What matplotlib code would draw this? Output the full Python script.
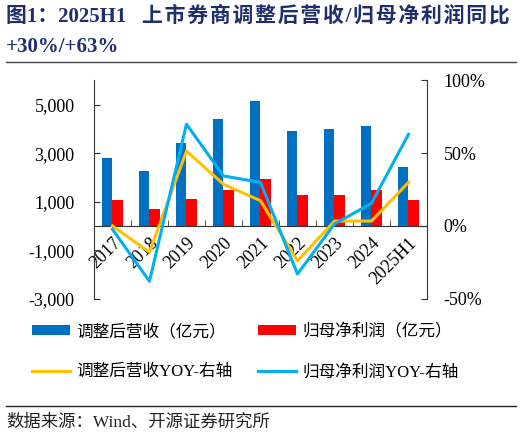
import matplotlib
matplotlib.use("Agg")
import matplotlib.pyplot as plt
from matplotlib.patches import Patch
from matplotlib.lines import Line2D
from matplotlib.ticker import FuncFormatter, FixedLocator

plt.rcParams["font.family"] = ["Liberation Serif", "Noto Sans CJK SC"]

YEARS = ["2017", "2018", "2019", "2020", "2021", "2022", "2023", "2024", "2025H1"]
REVENUE = [2800, 2280, 3435, 4410, 5155, 3900, 4010, 4140, 2420]
NET_PROFIT = [1070, 690, 1110, 1485, 1940, 1280, 1280, 1485, 1060]
REVENUE_YOY = [0.0, -18.0, 51.5, 28.7, 17.4, -24.0, 3.4, 3.4, 30.0]
PROFIT_YOY = [-2.3, -38.0, 70.0, 34.4, 30.0, -33.0, 1.4, 15.6, 63.0]

BLUE = "#0070C0"
RED = "#FF0000"
GOLD = "#FFC000"
SKY = "#00B0F0"
NAVY = "#1F2F6E"

TITLE_CN = "上市券商调整后营收/归母净利润同比"

fig = plt.figure(figsize=(5.22, 4.36), dpi=100)

# titulo e linhas de separacao
fig.text(0.011, 0.964, "图1：2025H1   " + "\u200a".join(TITLE_CN),
         fontsize=15, fontweight="bold", color=NAVY, va="center", ha="left")
fig.text(0.011, 0.892, "+30%/+63%", fontsize=15, fontweight="bold",
         color=NAVY, va="center", ha="left")
fig.add_artist(Line2D([0.012, 0.988], [0.858, 0.858], color="#444444", lw=1.0))
fig.add_artist(Line2D([0.012, 0.988], [0.069, 0.069], color="#222222", lw=1.0))
fig.text(0.013, 0.030, "数据来源：Wind、开源证券研究所", fontsize=12.5,
         va="center", ha="left", color="#222222")

ax = fig.add_axes([0.180, 0.3148, 0.638, 0.5006])
x = list(range(len(YEARS)))
w = 0.29
ax.bar([i - w / 2 for i in x], REVENUE, width=w, color=BLUE, zorder=2)
ax.bar([i + w / 2 for i in x], NET_PROFIT, width=w, color=RED, zorder=2)
ax.set_xlim(-0.5, len(YEARS) - 0.5)
ax.set_ylim(-3000, 6000)
ax.set_yticks([-3000, -1000, 1000, 3000, 5000])
ax.yaxis.set_major_formatter(FuncFormatter(lambda v, p: f"{int(v):,}"))

for s in ["top", "right"]:
    ax.spines[s].set_visible(False)
ax.spines["bottom"].set_position(("data", 0))
ax.spines["bottom"].set_color("#333333")
ax.spines["left"].set_color("#333333")

ax.set_xticks(x)
ax.set_xticklabels(YEARS, rotation=45, ha="right", rotation_mode="anchor")
ax.xaxis.set_minor_locator(FixedLocator([i + 0.5 for i in x[:-1]]))
ax.tick_params(axis="x", which="major", length=0, pad=6, labelsize=13)
ax.tick_params(axis="x", which="minor", direction="in", length=4, color="#333333")
ax.tick_params(axis="y", direction="in", length=4, labelsize=13, pad=14, color="#333333")

ax2 = ax.twinx()
ax2.plot(x, REVENUE_YOY, color=GOLD, lw=2.2, zorder=3)
ax2.plot(x, PROFIT_YOY, color=SKY, lw=2.2, zorder=3)
ax2.set_ylim(-50, 100)
ax2.set_yticks([-50, 0, 50, 100])
ax2.yaxis.set_major_formatter(FuncFormatter(lambda v, p: f"{int(v)}%"))
for s in ["top", "left", "bottom"]:
    ax2.spines[s].set_visible(False)
ax2.spines["right"].set_color("#333333")
ax2.tick_params(axis="y", direction="in", length=4, labelsize=13, pad=12, color="#333333")

handles = [
    Patch(facecolor=BLUE, label="调整后营收（亿元）"),
    Line2D([], [], color=GOLD, lw=2.2, label="调整后营收YOY-右轴"),
    Patch(facecolor=RED, label="归母净利润（亿元）"),
    Line2D([], [], color=SKY, lw=2.2, label="归母净利润YOY-右轴"),
]
fig.legend(handles=handles, ncol=2, loc="upper left", bbox_to_anchor=(0.048, 0.272),
           frameon=False, fontsize=12, handlelength=2.3, handleheight=0.5,
           labelspacing=1.45, columnspacing=1.5, handletextpad=0.4, borderaxespad=0)

fig.savefig("out.png", dpi=100)
